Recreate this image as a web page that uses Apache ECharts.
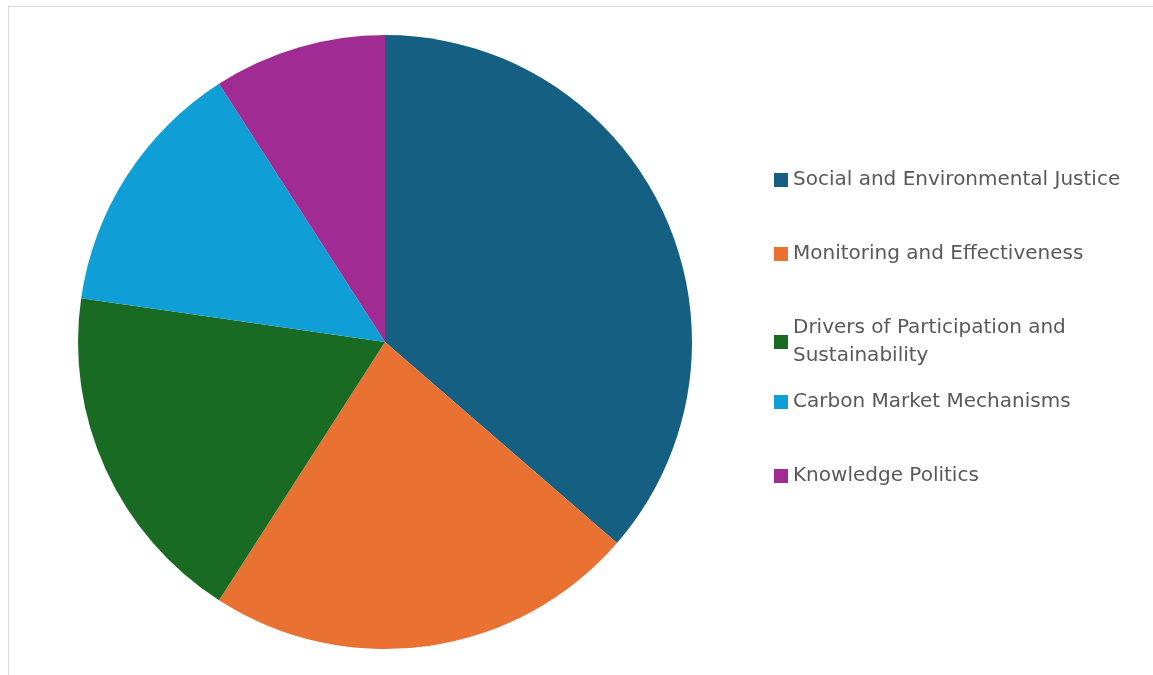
<!DOCTYPE html>
<html>
<head>
<meta charset="utf-8">
<script src="https://cdn.jsdelivr.net/npm/echarts@6/dist/echarts.min.js"></script>
<style>
  html, body { margin: 0; padding: 0; background: #fff; overflow: hidden; }
  .edge { position: absolute; background: #d9d9d9; }
  #edgeTop { left: 8px; top: 6px; width: 1145px; height: 1px; }
  #edgeLeft { left: 8px; top: 6px; width: 1px; height: 669px; }
  #chart { position: absolute; left: 0; top: 0; width: 1153px; height: 675px; }
</style>
</head>
<body>
<div class="edge" id="edgeTop"></div>
<div class="edge" id="edgeLeft"></div>
<div id="chart"></div>
<script>
// 主题分类
const categories = [
  "Social and Environmental Justice",
  "Monitoring and Effectiveness",
  "Drivers of Participation and Sustainability",
  "Carbon Market Mechanisms",
  "Knowledge Politics"
];
// 每个主题的数量
const counts = [8, 5, 4, 3, 2];
// 颜色
const colors = ["#156082", "#E97132", "#196B24", "#0F9ED5", "#A02B93"];
// 图例位置（顶部）
const legendTops = [161, 235, 295, 383, 457];

const chart = echarts.init(document.getElementById("chart"));

const legends = categories.map((name, i) => {
  const twoLine = name.indexOf("Drivers") === 0;
  return {
    orient: "vertical",
    left: 769,
    top: legendTops[i],
    itemWidth: 14,
    itemHeight: 14,
    icon: "rect",
    selectedMode: false,
    data: [name],
    formatter: twoLine ? "Drivers of Participation and\nSustainability" : "{name}",
    textStyle: {
      fontFamily: "DejaVu Sans",
      fontSize: 20,
      color: "#595959",
      lineHeight: 28,
      padding: twoLine ? [28, 0, 0, 0] : 0
    }
  };
});

chart.setOption({
  animation: false,
  color: colors,
  legend: legends,
  series: [
    {
      type: "pie",
      center: [385, 342],
      radius: 307,
      startAngle: 90,
      clockwise: true,
      label: { show: false },
      labelLine: { show: false },
      emphasis: { disabled: true },
      itemStyle: { borderWidth: 0 },
      data: categories.map((name, i) => ({ name: name, value: counts[i] }))
    }
  ]
});
</script>
</body>
</html>
